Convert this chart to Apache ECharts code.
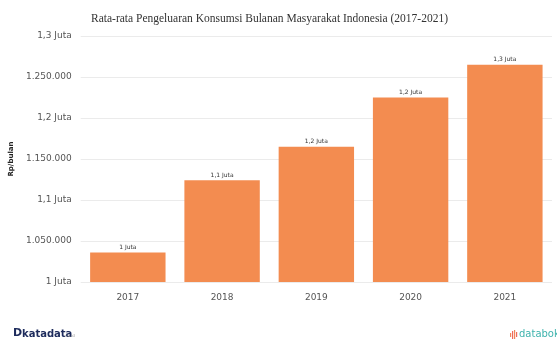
<!DOCTYPE html>
<html>
<head>
<meta charset="utf-8">
<script src="https://cdn.jsdelivr.net/npm/echarts@6/dist/echarts.min.js"></script>
<style>
  html, body { margin: 0; padding: 0; background: #ffffff; }
  #chart { width: 557px; height: 346px; }
</style>
</head>
<body>
<div id="chart"></div>
<script>
// Average monthly consumption expenditure per capita, Rupiah per month
const years = ['2017', '2018', '2019', '2020', '2021'];
const spending = [1036000, 1124000, 1165000, 1225000, 1265000];

const axisMin = 1000000;
const axisMax = 1300000;
const axisStep = 50000;

function jutaText(v) {
  const s = (v / 1e6).toFixed(1).replace('.', ',');
  return (s.endsWith(',0') ? s.slice(0, -2) : s) + ' Juta';
}
function dottedText(v) {
  return String(v).replace(/\B(?=(\d{3})+(?!\d))/g, '.');
}

const chart = echarts.init(document.getElementById('chart'), null, { renderer: 'canvas' });

chart.setOption({
  animation: false,
  backgroundColor: '#ffffff',
  title: {
    text: 'Rata-rata Pengeluaran Konsumsi Bulanan Masyarakat Indonesia (2017-2021)',
    left: 86,
    top: 8,
    textStyle: {
      fontFamily: 'Liberation Serif',
      fontWeight: 'normal',
      fontSize: 11.5,
      color: '#333333'
    }
  },
  grid: { left: 72, right: 5, top: 36, bottom: 64, containLabel: false },
  xAxis: {
    type: 'category',
    data: years,
    axisLine: { show: false },
    axisTick: { show: false },
    axisLabel: {
      margin: 11,
      fontFamily: 'DejaVu Sans',
      fontSize: 9,
      color: '#555555'
    }
  },
  yAxis: {
    type: 'value',
    min: axisMin,
    max: axisMax,
    interval: axisStep,
    name: 'Rp/bulan',
    nameLocation: 'middle',
    nameGap: 56,
    nameRotate: 90,
    nameTextStyle: {
      fontFamily: 'DejaVu Sans',
      fontWeight: 'bold',
      fontSize: 7,
      color: '#222222'
    },
    axisLine: { show: false },
    axisTick: { show: false },
    axisLabel: {
      margin: 9,
      fontFamily: 'DejaVu Sans',
      fontSize: 9,
      color: '#555555',
      formatter: v => (v % 100000 === 0 ? jutaText(v) : dottedText(v))
    },
    splitLine: { lineStyle: { color: '#ebebeb', width: 1 } }
  },
  series: [{
    type: 'bar',
    data: spending,
    barWidth: '80%',
    itemStyle: { color: '#F38C50' },
    label: {
      show: true,
      position: 'top',
      distance: 2,
      fontFamily: 'DejaVu Sans',
      fontSize: 6,
      color: '#333333',
      formatter: p => jutaText(p.value)
    }
  }],
  graphic: [
    // katadata wordmark, bottom left
    {
      type: 'text', left: 13, top: 328,
      style: { text: 'D', font: 'bold 11px "DejaVu Sans"', fill: '#1d2b5c' }
    },
    {
      type: 'text', left: 22, top: 329,
      style: { text: 'katadata', font: 'bold 10px "DejaVu Sans"', fill: '#1d2b5c' }
    },
    {
      type: 'text', left: 64, top: 334,
      style: { text: '.co.id', font: '4px "DejaVu Sans"', fill: '#9a9a9a' }
    },
    // databoks wordmark, bottom right
    {
      type: 'group', left: 510, top: 330,
      children: [
        { type: 'rect', shape: { x: 0, y: 3, width: 1.2, height: 4 }, style: { fill: '#f1865a' } },
        { type: 'rect', shape: { x: 2, y: 1, width: 1.2, height: 8 }, style: { fill: '#ee6a5a' } },
        { type: 'rect', shape: { x: 4, y: 0, width: 1.2, height: 9 }, style: { fill: '#f1865a' } },
        { type: 'rect', shape: { x: 6, y: 2, width: 1.2, height: 5 }, style: { fill: '#ee6a5a' } }
      ]
    },
    {
      type: 'text', left: 519, top: 329,
      style: { text: 'databoks', font: '10px "DejaVu Sans"', fill: '#3fb3ad' }
    }
  ]
});
</script>
</body>
</html>
